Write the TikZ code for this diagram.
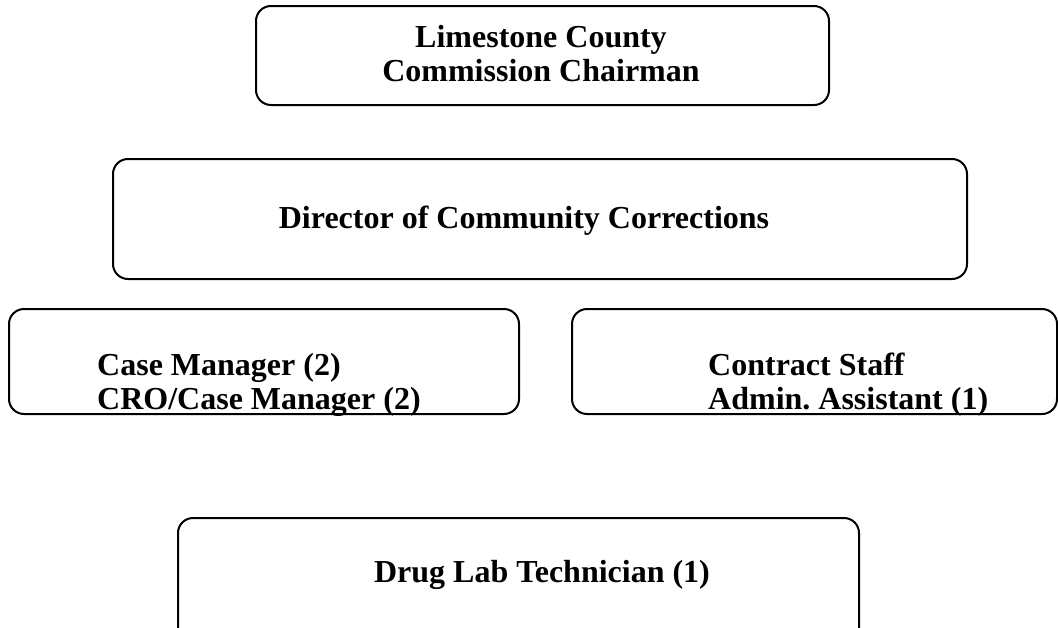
\documentclass[tikz,border=0pt]{standalone}
\usepackage{fontspec}
\setmainfont{Liberation Serif}
\frenchspacing
\tikzset{
  orgbox/.style={draw, line width=2pt, rounded corners=15pt, inner sep=0pt, anchor=north west},
  orgtext/.style={inner sep=0pt, align=center, font=\fontsize{32}{34}\selectfont\bfseries},
}
\begin{document}
\begin{tikzpicture}[x=1pt,y=-1pt]
   \useasboundingbox (0,0) rectangle (1058,627);
   \clip (0,0) rectangle (1058,627);
   \node[orgbox, minimum width=573pt, minimum height=99pt] (chair) at (255,5) {};
   \node[orgtext] (chairtext) at (541,54) {Limestone County\\Commission Chairman};
   \node[orgbox, minimum width=854pt, minimum height=120pt] (director) at (112,158) {};
   \node[orgtext] (directortext) at (524,221) {Director of Community Corrections};
   \node[orgbox, minimum width=510pt, minimum height=105pt] (casemgr) at (8,308) {};
   \node[orgtext, align=left, anchor=west] (casemgrtext) at (97,385) {Case Manager (2)\\CRO/Case Manager (2)};
   \node[orgbox, minimum width=485pt, minimum height=105pt] (contract) at (571,308) {};
   \node[orgtext, align=left, anchor=west] (contracttext) at (708,385) {Contract Staff\\Admin. Assistant (1)};
   \node[orgbox, minimum width=681pt, minimum height=125pt] (druglab) at (177,517) {};
   \node[orgtext] (druglabtext) at (542,575) {Drug Lab Technician (1)};
\end{tikzpicture}
\end{document}
